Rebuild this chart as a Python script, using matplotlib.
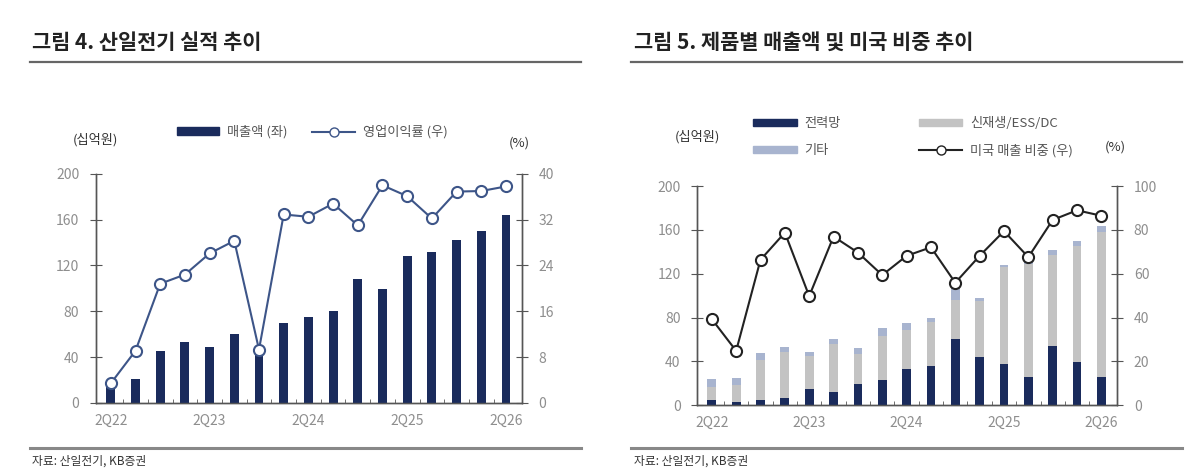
import numpy as np
import matplotlib.pyplot as plt
from matplotlib.patches import Patch
from matplotlib.lines import Line2D

plt.rcParams['font.family'] = ['Noto Sans CJK KR', 'DejaVu Sans']

# 분기 (2Q22 ~ 2Q26)
quarters = ["2Q22", "3Q22", "4Q22", "1Q23", "2Q23", "3Q23", "4Q23", "1Q24", "2Q24",
            "3Q24", "4Q24", "1Q25", "2Q25", "3Q25", "4Q25", "1Q26", "2Q26"]
tick_labels = ["2Q22", "2Q23", "2Q24", "2Q25", "2Q26"]

# 그림 4 data
sales = [18, 21, 45, 53, 49, 60, 48, 70, 75, 80, 108, 99, 128, 132, 142, 150, 164]
op_margin = [3.4, 9.1, 20.8, 22.4, 26.1, 28.3, 9.3, 32.9, 32.5, 34.8, 31.0, 38.0,
             36.1, 32.2, 36.9, 37.0, 37.8]

# 그림 5 data
grid = [4.6, 3, 4.3, 6.4, 14.6, 11.6, 18.9, 22.8, 33, 36, 60, 44.4, 38, 26, 53.6, 39.6, 26]
renew = [12.4, 15, 36.7, 42.6, 30.4, 44.4, 28.1, 40.2, 36, 40, 36, 50.3, 88, 103, 83.4,
         105.9, 132.6]
other = [7, 7, 7, 4, 4, 4, 5, 7.6, 6, 4, 12, 3.6, 2, 3, 5, 4.5, 5.4]
us_share = [39.3, 24.8, 66.4, 78.8, 49.8, 77, 69.7, 59.4, 68.2, 72.1, 55.9, 68.2, 79.5,
            67.6, 84.6, 89, 86.5]

NAVY = "#1a2b5c"
GREY_BAR = "#c3c3c3"
LIGHT = "#a8b4cf"
LINE_BLUE = "#3d5588"
TICK_GREY = "#8e8e8e"
AXIS_GREY = "#555555"


def style_axes(ax, ax2, n):
    x = np.arange(n)
    ax.set_xlim(-0.6, n - 0.35)
    ax.set_xticks([quarters.index(t) for t in tick_labels])
    ax.set_xticklabels(tick_labels)
    ax.set_xticks(x[:-1] + 0.5, minor=True)
    ax.tick_params(axis='x', which='major', length=0, pad=8, labelsize=10, labelcolor=TICK_GREY)
    ax.tick_params(axis='x', which='minor', length=3, direction='in', color=AXIS_GREY)
    ax.tick_params(axis='y', direction='inout', length=8, color=AXIS_GREY, pad=8,
                   labelsize=10, labelcolor=TICK_GREY)
    ax2.tick_params(axis='y', direction='inout', length=8, color=AXIS_GREY, pad=8,
                    labelsize=10, labelcolor=TICK_GREY)
    for a in (ax, ax2):
        a.spines['top'].set_visible(False)
        for s in ('left', 'right', 'bottom'):
            a.spines[s].set_color(AXIS_GREY)
            a.spines[s].set_linewidth(1.0)
    ax.set_zorder(ax2.get_zorder() + 1)
    ax.patch.set_visible(False)


def panel_frame(fig, x0, x1, title):
    # title and the two rules
    fig.text(x0 + 0.002, 0.91, title, fontsize=15, fontweight='bold', color="#222222",
             va='center')
    fig.add_artist(Line2D([x0, x1], [0.869, 0.869], color="#666666", lw=1.6))
    fig.add_artist(Line2D([x0, x1], [0.057, 0.057], color="#888888", lw=2.2))
    fig.text(x0 + 0.002, 0.030, "자료: 산일전기, KB증권", fontsize=8.5, color="#333333", va='center')


fig = plt.figure(figsize=(12, 4.75), dpi=100)
n = len(quarters)
x = np.arange(n)

# ---- 그림 4 ----
panel_frame(fig, 0.025, 0.484, "그림 4. 산일전기 실적 추이")
ax = fig.add_axes([0.08, 0.152, 0.355, 0.482])
ax2 = ax.twinx()
ax.bar(x, sales, width=0.36, color=NAVY, zorder=2)
ax.plot(x, np.array(op_margin) * 5, color=LINE_BLUE, lw=1.5, marker='o', ms=8,
        mfc='white', mec=LINE_BLUE, mew=1.5, zorder=3)
ax.set_ylim(0, 200)
ax.set_yticks(range(0, 201, 40))
ax2.set_ylim(0, 40)
ax2.set_yticks(range(0, 41, 8))
style_axes(ax, ax2, n)
fig.text(0.061, 0.705, "(십억원)", fontsize=9.5, color="#333333", va='center')
fig.text(0.424, 0.699, "(%)", fontsize=9.5, color="#333333", va='center')
handles = [Patch(color=NAVY),
           Line2D([], [], color=LINE_BLUE, lw=1.5, marker='o', ms=6.5, mfc='white', mec=LINE_BLUE)]
fig.legend(handles, ["매출액 (좌)", "영업이익률 (우)"], loc='center', ncol=2,
           bbox_to_anchor=(0.26, 0.722), frameon=False, fontsize=9.5, handlelength=3.2,
           handleheight=0.5, columnspacing=1.9, handletextpad=0.6, labelcolor="#555555")

# ---- 그림 5 ----
panel_frame(fig, 0.526, 0.985, "그림 5. 제품별 매출액 및 미국 비중 추이")
bx = fig.add_axes([0.581, 0.147, 0.35, 0.461])
bx2 = bx.twinx()
bx.bar(x, grid, width=0.36, color=NAVY, zorder=2)
bx.bar(x, renew, width=0.36, bottom=grid, color=GREY_BAR, zorder=2)
bx.bar(x, other, width=0.36, bottom=np.array(grid) + np.array(renew), color=LIGHT, zorder=2)
bx.plot(x, np.array(us_share) * 2, color="#222222", lw=1.5, marker='o', ms=8,
        mfc='white', mec="#222222", mew=1.5, zorder=3)
bx.set_ylim(0, 200)
bx.set_yticks(range(0, 201, 40))
bx2.set_ylim(0, 100)
bx2.set_yticks(range(0, 101, 20))
style_axes(bx, bx2, n)
fig.text(0.562, 0.712, "(십억원)", fontsize=9.5, color="#333333", va='center')
fig.text(0.921, 0.691, "(%)", fontsize=9.5, color="#333333", va='center')
handles = [Patch(color=NAVY), Patch(color=LIGHT), Patch(color=GREY_BAR),
           Line2D([], [], color="#222222", lw=1.5, marker='o', ms=6.5, mfc='white', mec="#222222")]
fig.legend(handles, ["전력망", "기타", "신재생/ESS/DC", "미국 매출 비중 (우)"], loc='center',
           ncol=2, bbox_to_anchor=(0.761, 0.711), frameon=False, fontsize=9.5,
           handlelength=3.3, handleheight=0.5, columnspacing=5.9, labelspacing=1.05,
           handletextpad=0.6, labelcolor="#555555")

plt.savefig("out.png", dpi=100)
plt.close()
